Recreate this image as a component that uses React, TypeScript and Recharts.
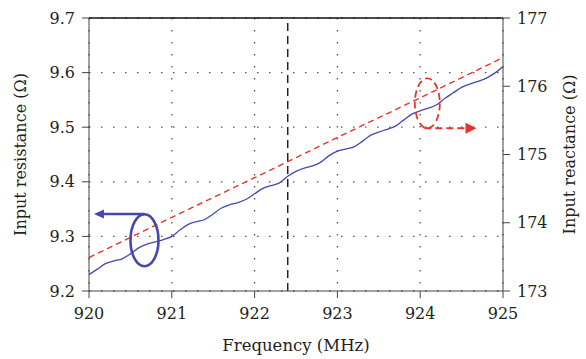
import React from 'react';
import {
  LineChart,
  Line,
  XAxis,
  YAxis,
  CartesianGrid,
  ReferenceLine,
  ReferenceDot,
} from 'recharts';

// frequency sweep (MHz) and input resistance (Ω)
const freqs = [
  920.0, 920.1, 920.2, 920.3, 920.4, 920.5, 920.6, 920.7, 920.8, 920.9,
  921.0, 921.1, 921.2, 921.3, 921.4, 921.5, 921.6, 921.7, 921.8, 921.9,
  922.0, 922.1, 922.2, 922.3, 922.4, 922.5, 922.6, 922.7, 922.8, 922.9,
  923.0, 923.1, 923.2, 923.3, 923.4, 923.5, 923.6, 923.7, 923.8, 923.9,
  924.0, 924.1, 924.2, 924.3, 924.4, 924.5, 924.6, 924.7, 924.8, 924.9,
  925.0,
];
const resistance = [
  9.230, 9.240, 9.250, 9.255, 9.259, 9.268, 9.279, 9.286, 9.290, 9.294,
  9.300, 9.312, 9.322, 9.327, 9.331, 9.341, 9.352, 9.358, 9.362, 9.368,
  9.378, 9.388, 9.393, 9.398, 9.410, 9.419, 9.425, 9.429, 9.436, 9.448,
  9.456, 9.460, 9.464, 9.474, 9.485, 9.491, 9.496, 9.502, 9.513, 9.524,
  9.530, 9.535, 9.541, 9.553, 9.563, 9.573, 9.579, 9.584, 9.590, 9.599,
  9.611,
];

// input reactance (Ω), straight dashed line
const reactFreqs = [920, 921, 922, 923, 924, 925];
const reactance = [173.49, 174.08, 174.66, 175.25, 175.83, 176.42];

const xTicks = [920, 921, 922, 923, 924, 925];
const leftTicks = [9.2, 9.3, 9.4, 9.5, 9.6, 9.7];
const rightTicks = [173, 174, 175, 176, 177];
const markerFreq = 922.4;

// annotation anchors (data coords)
const blueRing = { x: 920.67, y: 9.293 };
const blueArrow = [{ x: 920.67, y: 9.341 }, { x: 920.1, y: 9.341 }];
const blueTip = { x: 920.06, y: 9.341 };
const redRing = { x: 924.086, y: 175.75 };
const redArrow = [{ x: 924.05, y: 175.384 }, { x: 924.6, y: 175.384 }];
const redTip = { x: 924.68, y: 175.384 };

const resData = freqs.map((f, i) => ({ f, r: resistance[i] }));
const reactData = reactFreqs.map((f, i) => ({ f, x: reactance[i] }));

const BLUE = '#4548b0';
const RED = '#e5352b';
const INK = '#231f20';
const FONT = 'DejaVu Serif';

const Ring = (props: any) => {
  const { cx, cy, color, rx, ry, dash } = props;
  return (
    <ellipse
      cx={cx}
      cy={cy}
      rx={rx}
      ry={ry}
      fill="none"
      stroke={color}
      strokeWidth={dash ? 1.8 : 2.6}
      strokeDasharray={dash}
    />
  );
};

const Tip = (props: any) => {
  const { cx, cy, color, dir, len, half } = props;
  const back = cx - dir * len;
  return <polygon points={`${cx},${cy} ${back},${cy - half} ${back},${cy + half}`} fill={color} />;
};

const VTitle = ({ x, y, children }: any) => (
  <text
    x={x}
    y={y}
    transform={`rotate(-90 ${x} ${y})`}
    textAnchor="middle"
    fill={INK}
    fontFamily={FONT}
    fontSize={16}
  >
    {children}
  </text>
);

// custom tick so the font really is the one asked for
const Tick = (props: any) => {
  const { x, y, payload, anchor, fmt } = props;
  return (
    <text
      x={x}
      y={y}
      dy={anchor === 'middle' ? '0.71em' : '0.355em'}
      textAnchor={anchor}
      fill={INK}
      fontFamily={FONT}
      fontSize={16}
    >
      {fmt ? fmt(payload.value) : payload.value}
    </text>
  );
};

export default function App() {
  return (
    <div style={{ position: 'absolute', left: 0, top: 0, background: '#fff' }}>
      <LineChart width={586} height={359} margin={{ top: 18, right: 0, bottom: 0, left: 0 }}>
        <CartesianGrid
          yAxisId="left"
          stroke="#555"
          strokeWidth={1.3}
          strokeDasharray="1.5 10.5"
        />
        <XAxis
          dataKey="f"
          type="number"
          domain={[920, 925]}
          ticks={xTicks}
          allowDataOverflow
          height={68}
          tick={<Tick anchor="middle" />}
          tickSize={7}
          tickMargin={10}
          stroke="#444"
          label={{
            content: ({ viewBox }: any) => (
              <text
                x={viewBox.x + viewBox.width / 2}
                y={viewBox.y + 60}
                textAnchor="middle"
                fill={INK}
                fontFamily={FONT}
                fontSize={16.5}
              >
                Frequency (MHz)
              </text>
            ),
          }}
        />
        <YAxis
          yAxisId="left"
          domain={[9.2, 9.7]}
          ticks={leftTicks}
          width={89}
          tick={<Tick anchor="end" fmt={(v: number) => v.toFixed(1)} />}
          tickSize={7}
          tickMargin={7}
          stroke="#444"
          label={{
            content: ({ viewBox }: any) => (
              <VTitle x={viewBox.x + 26} y={viewBox.y + viewBox.height / 2}>
                Input resistance (Ω)
              </VTitle>
            ),
          }}
        />
        <YAxis
          yAxisId="right"
          orientation="right"
          domain={[173, 177]}
          ticks={rightTicks}
          width={83}
          tick={<Tick anchor="start" />}
          tickSize={7}
          tickMargin={7}
          stroke="#444"
          label={{
            content: ({ viewBox }: any) => (
              <VTitle x={viewBox.x + 72} y={viewBox.y + viewBox.height / 2}>
                Input reactance (Ω)
              </VTitle>
            ),
          }}
        />
        <ReferenceLine yAxisId="left" y={9.7} stroke="#111" strokeWidth={1.3} />
        <ReferenceLine
          yAxisId="left"
          x={markerFreq}
          stroke="#222"
          strokeWidth={1.5}
          strokeDasharray="8 5"
        />
        <Line
          yAxisId="right"
          data={reactData}
          dataKey="x"
          type="linear"
          stroke={RED}
          strokeWidth={1.4}
          strokeDasharray="6 4"
          dot={false}
          isAnimationActive={false}
        />
        <Line
          yAxisId="left"
          data={resData}
          dataKey="r"
          type="monotone"
          stroke={BLUE}
          strokeWidth={1.3}
          dot={false}
          isAnimationActive={false}
        />
        {/* blue marker: resistance -> left axis */}
        <ReferenceDot
          yAxisId="left"
          x={blueRing.x}
          y={blueRing.y}
          shape={(p: any) => <Ring {...p} color={BLUE} rx={14} ry={26} />}
        />
        <ReferenceLine yAxisId="left" segment={blueArrow} stroke={BLUE} strokeWidth={2.6} />
        <ReferenceDot
          yAxisId="left"
          x={blueTip.x}
          y={blueTip.y}
          shape={(p: any) => <Tip {...p} color={BLUE} dir={-1} len={10} half={4.5} />}
        />
        {/* red marker: reactance -> right axis */}
        <ReferenceDot
          yAxisId="right"
          x={redRing.x}
          y={redRing.y}
          shape={(p: any) => <Ring {...p} color={RED} rx={12.5} ry={25} dash="7 4" />}
        />
        <ReferenceLine
          yAxisId="right"
          segment={redArrow}
          stroke={RED}
          strokeWidth={2}
          strokeDasharray="7 4"
        />
        <ReferenceDot
          yAxisId="right"
          x={redTip.x}
          y={redTip.y}
          shape={(p: any) => <Tip {...p} color={RED} dir={1} len={11} half={5.5} />}
        />
      </LineChart>
    </div>
  );
}
